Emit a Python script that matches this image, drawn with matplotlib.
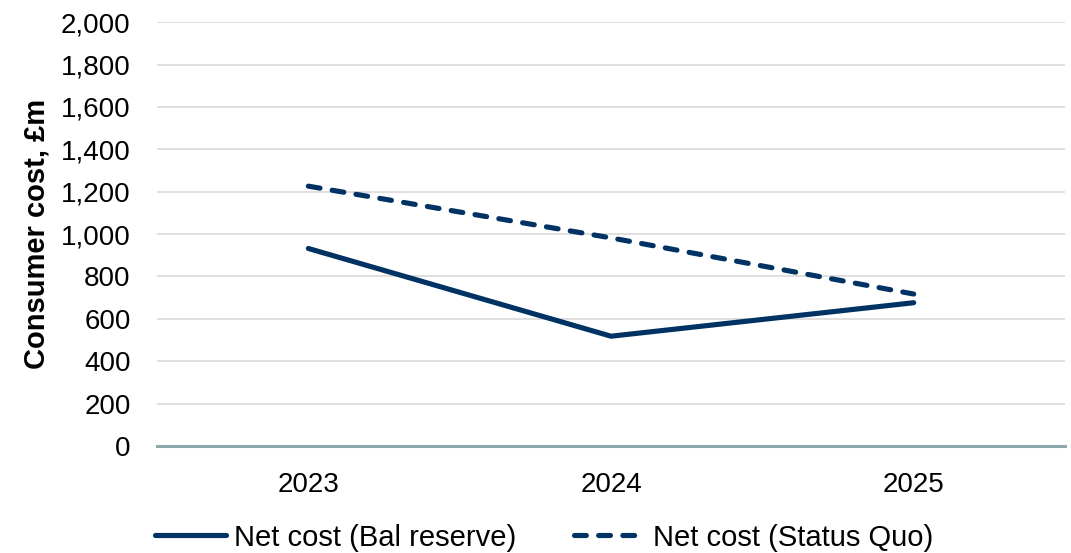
import matplotlib
matplotlib.use("Agg")
import matplotlib.pyplot as plt

years = ["2023", "2024", "2025"]
bal_reserve = [932, 518, 676]
status_quo = [1226, 982, 717]
yticks = list(range(0, 2001, 200))

plt.rcParams['font.family'] = ['Liberation Sans', 'DejaVu Sans']
navy = '#003263'
fs = 20

fig = plt.figure(figsize=(10.71, 5.53), dpi=100)
ax = fig.add_axes([0.1466, 0.1935, 0.8478, 0.7665])
x = list(range(len(years)))
ax.plot(x, bal_reserve, color=navy, lw=3.7, solid_capstyle='round', solid_joinstyle='miter',
        label='Net cost (Bal reserve)')
ax.plot(x, status_quo, color=navy, lw=3.7, ls=(0, (2.3, 2.4)), dash_capstyle='round',
        label='Net cost (Status Quo)')
ax.set_xlim(-0.5, 2.5)
ax.set_ylim(0, 2000)
ax.set_yticks(yticks)
ax.set_yticklabels([f"{v:,}" for v in yticks], fontsize=fs)
ax.set_xticks(x)
ax.set_xticklabels(years, fontsize=fs)
ax.grid(axis='y', color='#d9d9d9', lw=1.2)
ax.set_axisbelow(True)
for s in ['top', 'right', 'left']:
    ax.spines[s].set_visible(False)
ax.spines['bottom'].set_color('#8fa8ad')
ax.spines['bottom'].set_linewidth(2.2)
ax.spines['bottom'].set_zorder(3)
ax.tick_params(axis='x', length=0, pad=19)
ax.tick_params(axis='y', length=0, pad=19)
ax.set_ylabel('Consumer cost, £m', fontsize=21, fontweight='bold')
ax.yaxis.set_label_coords(-0.117, 0.5)
leg = fig.legend(loc='lower center', bbox_to_anchor=(0.508, -0.045), ncol=2, frameon=False,
                 fontsize=21, handlelength=2.45, columnspacing=2.0, handletextpad=0.25)
fig.savefig('out.png', dpi=100)
